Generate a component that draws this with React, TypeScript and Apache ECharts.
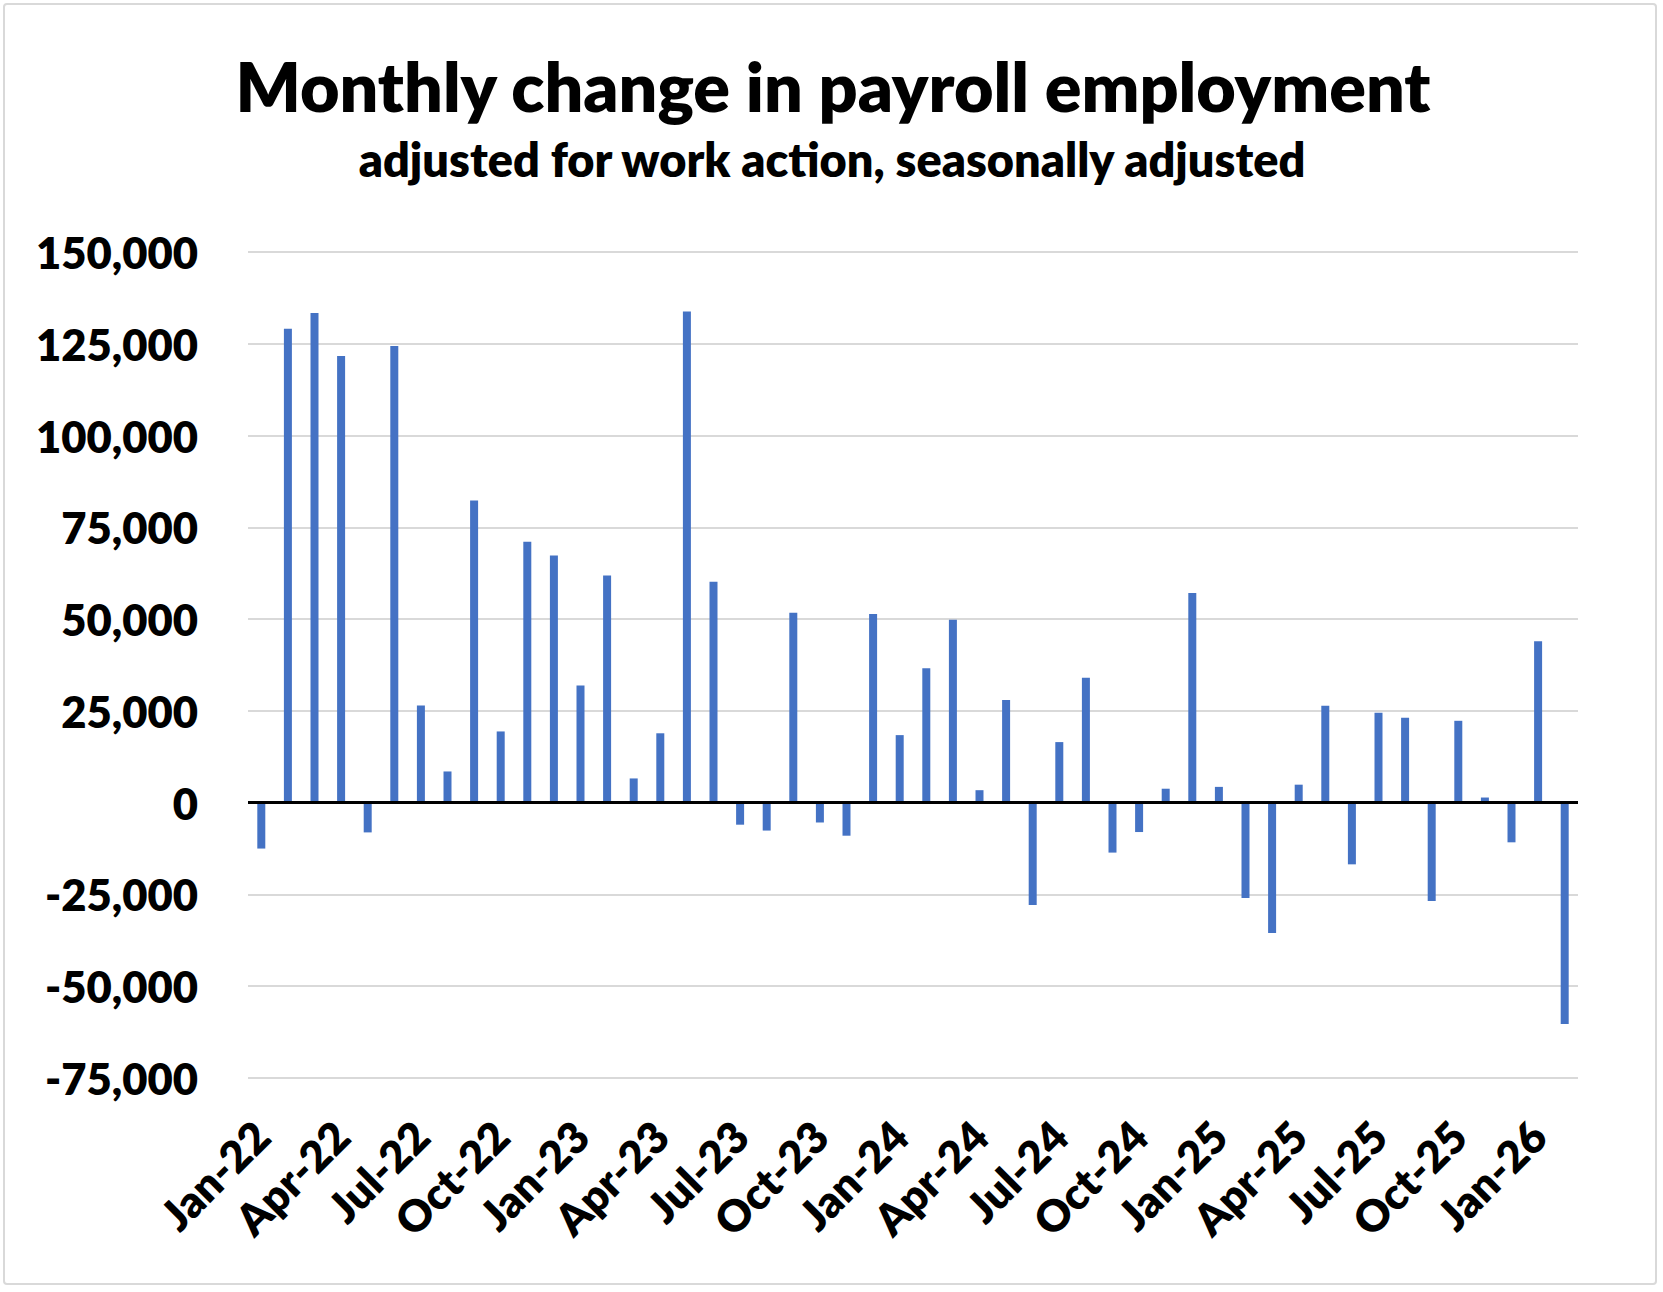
import React, { useEffect, useRef } from "react";
import * as echarts from "echarts";

const categories = [
  "Jan-22", "Feb-22", "Mar-22", "Apr-22", "May-22", "Jun-22", "Jul-22", "Aug-22", "Sep-22", "Oct-22", "Nov-22", "Dec-22",
  "Jan-23", "Feb-23", "Mar-23", "Apr-23", "May-23", "Jun-23", "Jul-23", "Aug-23", "Sep-23", "Oct-23", "Nov-23", "Dec-23",
  "Jan-24", "Feb-24", "Mar-24", "Apr-24", "May-24", "Jun-24", "Jul-24", "Aug-24", "Sep-24", "Oct-24", "Nov-24", "Dec-24",
  "Jan-25", "Feb-25", "Mar-25", "Apr-25", "May-25", "Jun-25", "Jul-25", "Aug-25", "Sep-25", "Oct-25", "Nov-25", "Dec-25",
  "Jan-26", "Feb-26",
];

const payrollChange = [
  -12500, 129100, 133400, 121700, -8100, 124400, 26500, 8500, 82300, 19400, 71100, 67300,
  31900, 61900, 6600, 18900, 133800, 60200, -6000, -7600, 51700, -5400, -9000, 51400,
  18400, 36600, 49800, 3400, 28000, -27900, 16500, 34000, -13600, -8000, 3800, 57100,
  4300, -26000, -35500, 4900, 26400, -16800, 24500, 23100, -26800, 22300, 1400, -10800,
  44000, -60300,
];

const yMin = -75000;
const yMax = 150000;
const yStep = 25000;

const titleText = "Monthly change in payroll employment";
const subtitleText = "adjusted for work action, seasonally adjusted";

const FONT = "Lato, 'Open Sans', sans-serif";
const WEIGHT = 800;

function fitSize(text: string, target: number): number {
  const ctx = document.createElement("canvas").getContext("2d");
  if (!ctx) return 40;
  ctx.font = `${WEIGHT} 100px ${FONT}`;
  const w = ctx.measureText(text).width;
  return w > 0 ? (100 * target) / w : 40;
}

export default function App() {
  const ref = useRef<HTMLDivElement>(null);

  useEffect(() => {
    if (!ref.current) return;
    const chart = echarts.init(ref.current, undefined, { renderer: "svg" });

    const titleSize = fitSize(titleText, 1197);
    const subSize = fitSize(subtitleText, 950);
    const axisSize = fitSize("150,000", 162);

    chart.setOption({
      animation: false,
      backgroundColor: "#ffffff",
      grid: { left: 248, right: 85, top: 252, bottom: 214, containLabel: false },
      graphic: [
        {
          type: "rect",
          shape: { x: 4, y: 4, width: 1652, height: 1280, r: 3 },
          style: { fill: "none", stroke: "#D9D9D9", lineWidth: 2 },
          silent: true,
        },
        {
          type: "text",
          x: 833,
          y: 86,
          style: {
            text: titleText,
            fontFamily: FONT,
            fontWeight: WEIGHT,
            fontSize: titleSize,
            fill: "#000000",
            align: "center",
            verticalAlign: "middle",
          },
        },
        {
          type: "text",
          x: 832,
          y: 159,
          style: {
            text: subtitleText,
            fontFamily: FONT,
            fontWeight: WEIGHT,
            fontSize: subSize,
            fill: "#000000",
            align: "center",
            verticalAlign: "middle",
          },
        },
      ],
      xAxis: {
        type: "category",
        data: categories,
        axisLine: { show: false, onZero: false },
        axisTick: { show: false },
        splitLine: { show: false },
        axisLabel: {
          interval: 2,
          rotate: 45,
          margin: 50,
          fontFamily: FONT,
          fontWeight: WEIGHT,
          fontSize: axisSize,
          color: "#000000",
        },
      },
      yAxis: {
        type: "value",
        min: yMin,
        max: yMax,
        interval: yStep,
        axisLine: { show: false },
        axisTick: { show: false },
        splitLine: { show: true, lineStyle: { color: "#D9D9D9", width: 2 } },
        axisLabel: {
          margin: 50,
          fontFamily: FONT,
          fontWeight: WEIGHT,
          fontSize: axisSize,
          color: "#000000",
          formatter: (v: number) => v.toLocaleString("en-US"),
        },
      },
      series: [
        {
          type: "bar",
          data: payrollChange,
          barWidth: 8,
          itemStyle: { color: "#4472C4" },
          markLine: {
            silent: true,
            symbol: "none",
            label: { show: false },
            lineStyle: { color: "#000000", width: 3, type: "solid" },
            data: [{ yAxis: 0 }],
          },
        },
      ],
    });

    return () => chart.dispose();
  }, []);

  return (
    <div
      ref={ref}
      style={{ position: "absolute", left: 0, top: 0, width: 1663, height: 1292, background: "#fff" }}
    />
  );
}
